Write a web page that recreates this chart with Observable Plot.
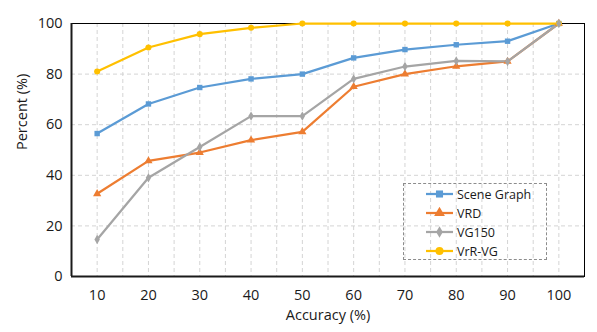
<!DOCTYPE html>
<html>
<head>
<meta charset="utf-8">
<script src="https://cdn.jsdelivr.net/npm/d3@7"></script>
<script src="https://cdn.jsdelivr.net/npm/@observablehq/plot@0.6"></script>
<style>
  html, body { margin: 0; padding: 0; background: #fff; }
  #wrap { position: relative; width: 597px; height: 332px; font-family: "Open Sans", sans-serif; }
  #legend { position: absolute; left: 403px; top: 183px; width: 144px; height: 77px;
    border: 1px dashed #8c8c8c; box-sizing: border-box; font-size: 12.5px; color: #1a1a1a; }
  .item { position: absolute; left: 22px; height: 18px; display: flex; align-items: center; }
  .item svg { margin-right: 4px; }
</style>
</head>
<body>
<div id="wrap"></div>
<script>
const accuracy = [10, 20, 30, 40, 50, 60, 70, 80, 90, 100];
const seriesNames = ["Scene Graph", "VRD", "VG150", "VrR-VG"];
const sceneGraph = [56.5, 68.2, 74.7, 78.1, 80.0, 86.4, 89.7, 91.6, 93.0, 100];
const vrd        = [32.7, 45.7, 49.0, 53.9, 57.2, 75.0, 80.0, 83.1, 85.0, 100];
const vg150      = [14.6, 39.0, 51.2, 63.4, 63.4, 78.1, 83.0, 85.2, 85.0, 100];
const vrrvg      = [81.0, 90.5, 95.8, 98.3, 100, 100, 100, 100, 100, 100];
const colors  = ["#5b9bd5", "#ed7d31", "#a5a5a5", "#ffc000"];
const symbols = ["square", "triangle", "diamond", "circle"];
const xTicks = accuracy;
const yTicks = [0, 20, 40, 60, 80, 100];
const xGrid = d3.range(5, 106, 5);
const yGrid = [20, 40, 60, 80];

const allValues = [sceneGraph, vrd, vg150, vrrvg];
const data = [];
seriesNames.forEach((s, i) => accuracy.forEach((a, j) => data.push({series: s, x: a, y: allValues[i][j]})));

const colorScale = {domain: seriesNames, range: colors};
const font = "Open Sans, sans-serif";

const chart = Plot.plot({
  width: 597, height: 332,
  marginLeft: 71, marginRight: 13, marginTop: 23, marginBottom: 56,
  style: {fontFamily: font, fontSize: "14.5px", color: "#1a1a1a", background: "#fff"},
  x: {domain: [5, 105]},
  y: {domain: [0, 100]},
  color: colorScale,
  symbol: {domain: seriesNames, range: symbols},
  marks: [
    Plot.ruleX(xGrid, {x: d => d, stroke: "#d4d4d4", strokeDasharray: "4,3", strokeWidth: 1}),
    Plot.ruleY(yGrid, {y: d => d, stroke: "#d4d4d4", strokeDasharray: "4,3", strokeWidth: 1}),
    Plot.frame({stroke: "#000", strokeWidth: 1}),
    Plot.axisX({ticks: xTicks, tickSize: 0, tickPadding: 13, label: null, fontSize: 14.5}),
    Plot.axisY({ticks: yTicks, tickSize: 0, tickPadding: 9, label: null, fontSize: 14.5}),
    Plot.ruleY([0], {stroke: "#1a1a1a", strokeWidth: 2}),
    Plot.ruleX([5], {stroke: "#1a1a1a", strokeWidth: 2}),
    Plot.line(data, {x: "x", y: "y", z: "series", stroke: "series", strokeWidth: 2.25}),
    Plot.dot(data, {x: "x", y: "y", fill: "series", symbol: "series",
      r: d => d.series === "VG150" ? 3.5 : 4, stroke: "none"}),
    Plot.text(["Percent (%)"], {frameAnchor: "left", dx: -49, rotate: -90, fontSize: 14.5, fill: "#1a1a1a"}),
    Plot.text(["Accuracy (%)"], {frameAnchor: "bottom", dy: 43, fontSize: 14.5, fill: "#1a1a1a"})
  ]
});

const wrap = document.getElementById("wrap");
wrap.appendChild(chart);

const legend = document.createElement("div");
legend.id = "legend";
const symPaths = {
  square: d3.symbol(d3.symbolSquare, 16 * Math.PI)(),
  triangle: d3.symbol(d3.symbolTriangle, 16 * Math.PI)(),
  diamond: d3.symbol(d3.symbolDiamond, 12.25 * Math.PI)(),
  circle: d3.symbol(d3.symbolCircle, 16 * Math.PI)()
};
const tops = [1, 20, 39, 58];
seriesNames.forEach((s, i) => {
  const it = document.createElement("div");
  it.className = "item";
  it.style.top = tops[i] + "px";
  it.innerHTML = `<svg width="27" height="12"><line x1="0" x2="27" y1="6" y2="6" stroke="${colors[i]}" stroke-width="2.25"/>` +
    `<path transform="translate(13.5,6)" d="${symPaths[symbols[i]]}" fill="${colors[i]}"/></svg><span>${s}</span>`;
  legend.appendChild(it);
});
wrap.appendChild(legend);
</script>
</body>
</html>
